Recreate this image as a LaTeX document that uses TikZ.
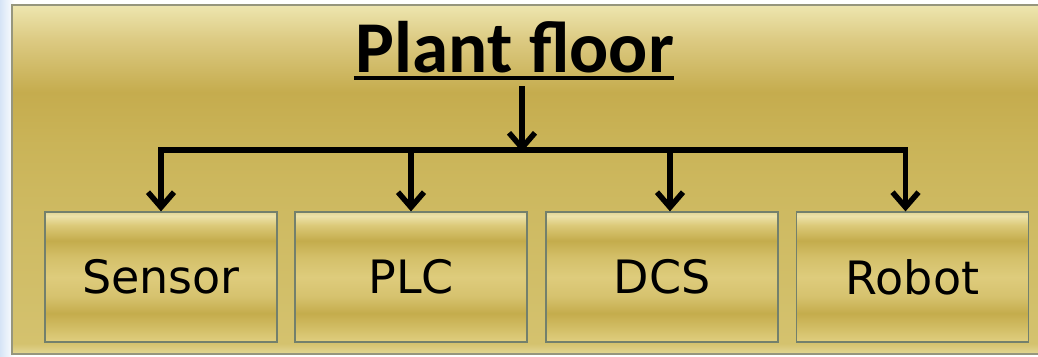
\documentclass[tikz,border=0pt]{standalone}
\usepackage{fontspec}
\setmainfont{DejaVu Sans}
\newfontfamily\titlefont{Carlito}
\usetikzlibrary{arrows.meta}
\definecolor{bgblue}{RGB}{214,228,246}
\definecolor{panelborder}{RGB}{150,150,125}
\definecolor{boxborder}{RGB}{115,128,108}
% path spans 25bp (bottom) .. 75bp (top)
\pgfdeclareverticalshading{panelshade}{100bp}{
  color(0bp)=(rgb,255:red,228;green,216;blue,150);
  color(25bp)=(rgb,255:red,228;green,216;blue,150);
  color(26.5bp)=(rgb,255:red,212;green,194;blue,110);
  color(45bp)=(rgb,255:red,206;green,186;blue,98);
  color(55bp)=(rgb,255:red,202;green,180;blue,88);
  color(62.5bp)=(rgb,255:red,197;green,172;blue,78);
  color(70bp)=(rgb,255:red,220;green,202;blue,130);
  color(74bp)=(rgb,255:red,234;green,224;blue,166);
  color(75bp)=(rgb,255:red,238;green,230;blue,176);
  color(100bp)=(rgb,255:red,238;green,230;blue,176)}
\pgfdeclareverticalshading{boxshade}{100bp}{
  color(0bp)=(rgb,255:red,224;green,206;blue,128);
  color(25bp)=(rgb,255:red,224;green,206;blue,128);
  color(29bp)=(rgb,255:red,214;green,194;blue,108);
  color(36bp)=(rgb,255:red,196;green,172;blue,76);
  color(42.5bp)=(rgb,255:red,214;green,194;blue,110);
  color(50bp)=(rgb,255:red,222;green,204;blue,124);
  color(57.5bp)=(rgb,255:red,212;green,192;blue,106);
  color(64bp)=(rgb,255:red,196;green,172;blue,76);
  color(70bp)=(rgb,255:red,220;green,202;blue,122);
  color(73.5bp)=(rgb,255:red,236;green,226;blue,170);
  color(75bp)=(rgb,255:red,226;green,214;blue,150);
  color(100bp)=(rgb,255:red,226;green,214;blue,150)}
\tikzset{
  panel/.style={draw=panelborder,line width=1.5pt,shading=panelshade},
  unitbox/.style={draw=boxborder,line width=1.2pt,shading=boxshade,
    minimum width=232pt,minimum height=130pt,inner sep=0pt,
    font=\fontsize{46}{50}\selectfont},
  link/.style={line width=5.5pt,black},
  arr/.style={link,-{Straight Barb[length=15pt,width=26pt,line width=5.5pt]}}
}
\begin{document}
\begin{tikzpicture}[x=1pt,y=-1pt]
\useasboundingbox (0,0) rectangle (1038,356);
\fill[white] (0,0) rectangle (1038,356);
\shade[left color=bgblue,right color=white] (0,0) rectangle (14,356);
\path[panel] (12,5) rectangle (1045,354);
\node[anchor=base,font=\titlefont\bfseries\fontsize{73}{76}\selectfont,inner sep=0pt] (title) at (515,72) {Plant floor};
\draw[line width=4pt] (title.base west) ++(-2,6) coordinate (ul1) -- (title.base east |- ul1);
\node[unitbox] (sensor) at (161,277) {Sensor};
\node[unitbox] (plc) at (411,277) {PLC};
\node[unitbox] (dcs) at (662,277) {DCS};
\node[unitbox] (robot) at (912.5,277) {Robot};
\coordinate (top) at (522,86);
\coordinate (bus) at (522,150);
\draw[arr] (top) -- ([yshift=-2pt]bus);
\draw[link] ([xshift=-2.75pt]sensor.north |- bus) -- ([xshift=-4.25pt]robot.north |- bus);
\draw[arr] (sensor.north |- bus) -- (sensor.north);
\draw[arr] (plc.north |- bus) -- (plc.north);
\draw[arr] ([xshift=8pt]dcs.north |- bus) -- ([xshift=8pt]dcs.north);
\draw[arr] ([xshift=-7pt]robot.north |- bus) -- ([xshift=-7pt]robot.north);
\end{tikzpicture}
\end{document}
